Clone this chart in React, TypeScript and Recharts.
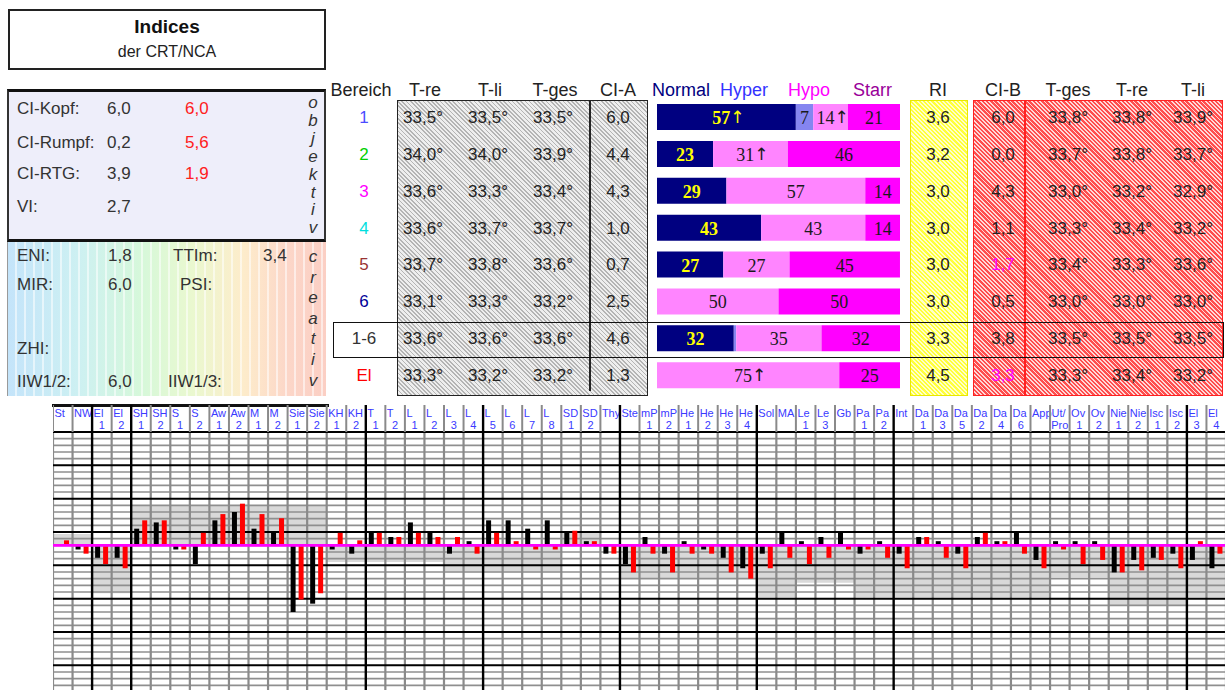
import React from 'react';
import { BarChart, Bar, XAxis, YAxis, ReferenceLine, ReferenceArea, LabelList } from 'recharts';

// ---------------- table data ----------------
const areas = ['1', '2', '3', '4', '5', '6', '1-6', 'El'];
const areaColors = ['#4b4bff', '#00d000', '#ff00ff', '#00dede', '#993333', '#000099', '#333333', '#ff0000'];
const tReL = [33.5, 34.0, 33.6, 33.6, 33.7, 33.1, 33.6, 33.3];
const tLiL = [33.5, 34.0, 33.3, 33.7, 33.8, 33.3, 33.6, 33.2];
const tGesL = [33.5, 33.9, 33.4, 33.7, 33.6, 33.2, 33.6, 33.2];
const ciA = [6.0, 4.4, 4.3, 1.0, 0.7, 2.5, 4.6, 1.3];
const ri = [3.6, 3.2, 3.0, 3.0, 3.0, 3.0, 3.3, 4.5];
const ciB = [6.0, 0.0, 4.3, 1.1, 1.7, 0.5, 3.8, 3.3];
const ciBColors = ['#222', '#222', '#222', '#222', '#ff00ff', '#222', '#222', '#ff00ff'];
const tGesR = [33.8, 33.7, 33.0, 33.3, 33.4, 33.0, 33.5, 33.3];
const tReR = [33.8, 33.8, 33.2, 33.4, 33.3, 33.0, 33.5, 33.4];
const tLiR = [33.9, 33.7, 32.9, 33.2, 33.6, 33.0, 33.5, 33.2];

const distNormal = [57.14, 23.08, 28.57, 42.86, 27.27, 0, 31.6, 0];
const distHyper = [7.14, 0, 0, 0, 0, 0, 1.0, 0];
const distHypo = [14.29, 30.77, 57.14, 42.86, 27.27, 50, 35.1, 75];
const distStarr = [21.43, 46.15, 14.29, 14.29, 45.45, 50, 32.3, 25];
const normalArrow = [true, false, false, false, false, false, false, false];
const hypoArrow = [true, true, false, false, false, false, false, true];

const objLabels = ['CI-Kopf:', 'CI-Rumpf:', 'CI-RTG:', 'VI:'];
const objValues = [6.0, 0.2, 3.9, 2.7];
const objRed: (number | null)[] = [6.0, 5.6, 1.9, null];

// ---------------- bottom chart data ----------------
const labelTop = ['St', 'NW', 'El', 'El', 'SH', 'SH', 'S', 'S', 'Aw', 'Aw', 'M', 'M', 'Sie', 'Sie', 'KH', 'KH', 'T', 'T',
  'L', 'L', 'L', 'L', 'L', 'L', 'L', 'L', 'SD', 'SD', 'Thy', 'Ste', 'mP', 'mP', 'He', 'He', 'He', 'He', 'Sol', 'MA',
  'Le', 'Le', 'Gb', 'Pa', 'Pa', 'Int', 'Da', 'Da', 'Da', 'Da', 'Da', 'Da', 'App', 'Ut/', 'Ov', 'Ov', 'Nie', 'Nie',
  'Isc', 'Isc', 'El', 'El'];
const labelBottom = ['', '', '1', '2', '1', '2', '1', '2', '1', '2', '1', '2', '1', '2', '1', '2', '1', '2',
  '1', '2', '3', '4', '5', '6', '7', '8', '1', '2', '', '', '1', '2', '1', '2', '3', '4', '', '',
  '1', '3', '', '1', '2', '', '1', '3', '5', '2', '4', '6', '', 'Pro', '1', '2', '1', '2',
  '1', '2', '3', '4'];
const blackVals = [0, -0.1, -0.3, -0.3, 0.4, 0.55, -0.1, -0.45, 0.6, 0.8, 0.4, 0.3, -1.6, -1.4, -0.1, -0.2, 0.3, 0.2,
  0.55, 0.3, -0.2, 0.1, 0.6, 0.6, 0.4, 0.6, 0.3, 0.1, -0.2, -0.45, 0.2, -0.2, 0.1, -0.1, -0.3, -0.55, -0.2, 0.3,
  0.1, 0.2, 0.3, -0.2, 0.1, -0.2, 0.2, 0.1, -0.2, 0.2, 0.1, 0.3, -0.35, 0.1, 0.1, 0.1, -0.65, -0.35,
  -0.3, -0.2, -0.35, -0.55];
const redVals = [0.12, -0.2, -0.45, -0.55, 0.6, 0.6, -0.1, 0.3, 0.75, 1.0, 0.75, 0.65, -1.3, -1.15, 0.3, 0.12, 0.3, 0.2,
  0.3, 0.2, 0.2, -0.2, 0.3, 0.1, -0.1, -0.1, 0.35, 0.1, -0.2, -0.65, -0.2, -0.65, -0.2, -0.2, -0.65, -0.8, -0.55, -0.3,
  -0.45, -0.3, -0.1, -0.1, -0.3, -0.55, 0.2, -0.3, -0.55, 0.3, 0.1, -0.2, -0.55, -0.1, -0.45, -0.35, -0.65, -0.6,
  -0.35, -0.55, 0.1, -0.2];
// reference ranges (column from, column to, upper, lower)
const bands = [
  { from: 0, to: 1, top: 0.27, bottom: 0 },
  { from: 2, to: 3, top: 0, bottom: -1.15 },
  { from: 4, to: 13, top: 0.95, bottom: 0 },
  { from: 14, to: 19, top: 0, bottom: -0.4 },
  { from: 20, to: 25, top: 0, bottom: -0.65 },
  { from: 26, to: 27, top: 0.3, bottom: 0 },
  { from: 29, to: 35, top: 0, bottom: -0.8 },
  { from: 36, to: 37, top: 0, bottom: -1.25 },
  { from: 38, to: 40, top: 0, bottom: -0.9 },
  { from: 41, to: 50, top: 0, bottom: -1.25 },
  { from: 51, to: 53, top: 0, bottom: -0.77 },
  { from: 54, to: 57, top: 0, bottom: -1.45 },
  { from: 58, to: 59, top: 0, bottom: -1.25 },
];
const blackCols = [2, 4, 16, 22, 29, 36, 43, 58];

// ---------------- layout constants ----------------
const COLS = labelTop.length;
const CH_LEFT = 53;
const CH_TOP = 405;
const CH_W = 1173;
const CH_H = 285;
const HEAD_H = 27;
const PX_PER_UNIT = 41.667;
const Y_MAX = 2.72;
const Y_MIN = Y_MAX - (CH_H - HEAD_H) / PX_PER_UNIT;
const MINOR = 0.16;

const colKeys = labelTop.map((t, i) => t + labelBottom[i]);
const chartRows = colKeys.map((k, i) => ({ key: k, pos: i + 0.5, black: blackVals[i], red: redVals[i] }));

const minorLines: number[] = [];
const majorLines: number[] = [];
for (let k = Math.ceil(Y_MIN / MINOR); k <= Math.floor(Y_MAX / MINOR + 1e-6); k++) {
  const v = +(k * MINOR).toFixed(3);
  if ((((k - 2) % 5) + 5) % 5 === 0) majorLines.push(v);
  else minorLines.push(v);
}
const colEdges = Array.from({ length: COLS + 1 }, (_, i) => i);

const FONT = 'Arial, "Liberation Sans", sans-serif';
const SERIF = '"Liberation Serif", "Times New Roman", serif';
const fmt1 = (v: number) => v.toFixed(1).replace('.', ',');
const fmtT = (v: number) => fmt1(v) + '°';

const ROW_Y0 = 117;
const ROW_DY = 36.85;

const HATCH_GRAY = 'repeating-linear-gradient(45deg, #b4b4b4 0px, #b4b4b4 1.2px, #eeeeee 1.2px, #eeeeee 3px)';
const HATCH_RED = 'repeating-linear-gradient(45deg, #ff4e4e 0px, #ff4e4e 1.7px, #ffd8d8 1.7px, #ffd8d8 3px)';
const HATCH_YEL = 'repeating-linear-gradient(45deg, #ffff3a 0px, #ffff3a 1.5px, #ffffc8 1.5px, #ffffc8 3px)';

type TP = {
  x: number; y: number; children: React.ReactNode; color?: string; size?: number;
  anchor?: 'start' | 'middle' | 'end'; weight?: number | string; italic?: boolean; family?: string;
};
function T({ x, y, children, color = '#222', size = 17, anchor = 'middle', weight = 'normal', italic = false, family = FONT }: TP) {
  const tx = anchor === 'middle' ? '-50%' : anchor === 'end' ? '-100%' : '0';
  return (
    <div style={{
      position: 'absolute', left: x, top: y, transform: `translate(${tx}, -50%)`, whiteSpace: 'nowrap',
      lineHeight: 1, fontSize: size, color, fontWeight: weight as any, fontStyle: italic ? 'italic' : 'normal',
      fontFamily: family,
    }}>{children}</div>
  );
}

function HeaderTick(props: any) {
  const { x, payload } = props;
  const i = colKeys.indexOf(payload.value);
  if (i < 0) return null;
  const colW = CH_W / COLS;
  const left = x - colW / 2;
  const isBlack = blackCols.includes(i);
  return (
    <g>
      <line x1={left} x2={left} y1={0} y2={HEAD_H} stroke={isBlack ? '#000' : '#8a8a8a'} strokeWidth={isBlack ? 2.4 : 2} />
      <text x={left + 1.5} y={12} fontSize={11} fill="#3a3aff" fontFamily={FONT}>{labelTop[i]}</text>
      {labelBottom[i] ? (
        <text x={x} y={24} textAnchor="middle" fontSize={11} fill="#3a3aff" fontFamily={FONT}>{labelBottom[i]}</text>
      ) : null}
    </g>
  );
}

function GridLayer() {
  return (
    <BarChart width={CH_W} height={CH_H} data={chartRows} margin={{ top: 0, right: 0, bottom: 0, left: 0 }} barSize={5} barGap={3}>
      <XAxis xAxisId="cat" dataKey="key" orientation="top" height={HEAD_H} interval={0} axisLine={false} tickLine={false} tick={<HeaderTick />} />
      <XAxis xAxisId="num" dataKey="pos" type="number" domain={[0, COLS]} hide allowDataOverflow />
      <YAxis type="number" domain={[Y_MIN, Y_MAX]} hide allowDataOverflow />
      {bands.map((b, i) => (
        <ReferenceArea key={'b' + i} xAxisId="num" x1={b.from} x2={b.to + 1} y1={b.top} y2={b.bottom}
          fill="#d9d9d9" fillOpacity={1} stroke="none" ifOverflow="hidden" />
      ))}
      {minorLines.map((v) => (
        <ReferenceLine key={'mi' + v} xAxisId="num" y={v} stroke="#8f8f8f" strokeWidth={1.6} />
      ))}
      {colEdges.filter((c) => !blackCols.includes(c)).map((c) => (
        <ReferenceLine key={'vg' + c} xAxisId="num" x={c} stroke="#8a8a8a" strokeWidth={2.2} />
      ))}
      {majorLines.map((v) => (
        <ReferenceLine key={'ma' + v} xAxisId="num" y={v} stroke="#000" strokeWidth={2} />
      ))}
      {blackCols.map((c) => (
        <ReferenceLine key={'vb' + c} xAxisId="num" x={c} stroke="#000" strokeWidth={2.4} />
      ))}
      <Bar xAxisId="cat" dataKey="black" fill="transparent" isAnimationActive={false} />
    </BarChart>
  );
}

function BarLayer() {
  return (
    <BarChart width={CH_W} height={CH_H} data={chartRows} margin={{ top: 0, right: 0, bottom: 0, left: 0 }} barSize={5} barGap={3}>
      <XAxis xAxisId="cat" dataKey="key" orientation="top" height={HEAD_H} interval={0} axisLine={false} tickLine={false} tick={false} />
      <XAxis xAxisId="num" dataKey="pos" type="number" domain={[0, COLS]} hide allowDataOverflow />
      <YAxis type="number" domain={[Y_MIN, Y_MAX]} hide allowDataOverflow />
      <Bar xAxisId="cat" dataKey="black" fill="#000000" isAnimationActive={false} />
      <Bar xAxisId="cat" dataKey="red" fill="#ff0000" isAnimationActive={false} />
      <ReferenceLine xAxisId="num" y={0} stroke="#ff00ff" strokeWidth={2.6} />
    </BarChart>
  );
}

const distData = areas.map((a, i) => ({
  row: a, normal: distNormal[i], hyper: distHyper[i], hypo: distHypo[i], starr: distStarr[i],
}));

function makeLabel(kind: 'normal' | 'hyper' | 'hypo' | 'starr') {
  return (props: any) => {
    const vb = props.viewBox || props;
    const x = Number(vb.x ?? props.x);
    const y = Number(vb.y ?? props.y);
    const w = Number(vb.width ?? props.width);
    const h = Number(vb.height ?? props.height);
    const v = Number(props.value);
    const idx = props.index;
    if (!v || v < 3) return null;
    const s = String(Math.round(v));
    const arrow = (kind === 'normal' && normalArrow[idx]) || (kind === 'hypo' && hypoArrow[idx]);
    const yellow = kind === 'normal';
    const fill = yellow ? '#ffff00' : '#1a1a1a';
    return (
      <text x={x + w / 2 + (arrow ? 2 : 0)} y={y + h / 2 + 1} textAnchor="middle" dominantBaseline="central"
        fontFamily={SERIF} fontSize={18} fontWeight={yellow ? 'bold' : 'normal'} fill={fill}>
        {s}
        {arrow ? <tspan fontFamily='"DejaVu Sans", sans-serif' fontWeight="normal" fontSize={17} dy={-1}>↑</tspan> : null}
      </text>
    );
  };
}

function DistChart() {
  return (
    <BarChart layout="vertical" width={243} height={295} data={distData} margin={{ top: 0, right: 0, bottom: 0, left: 0 }} barSize={26}>
      <XAxis type="number" domain={[0, 100]} hide allowDataOverflow />
      <YAxis type="category" dataKey="row" hide />
      <Bar dataKey="normal" stackId="s" fill="#000080" isAnimationActive={false}>
        <LabelList dataKey="normal" content={makeLabel('normal')} />
      </Bar>
      <Bar dataKey="hyper" stackId="s" fill="#8585f0" isAnimationActive={false}>
        <LabelList dataKey="hyper" content={makeLabel('hyper')} />
      </Bar>
      <Bar dataKey="hypo" stackId="s" fill="#ff85ff" isAnimationActive={false}>
        <LabelList dataKey="hypo" content={makeLabel('hypo')} />
      </Bar>
      <Bar dataKey="starr" stackId="s" fill="#ff00ff" isAnimationActive={false}>
        <LabelList dataKey="starr" content={makeLabel('starr')} />
      </Bar>
    </BarChart>
  );
}

export default function App() {
  const rowY = (i: number) => ROW_Y0 + i * ROW_DY;
  return (
    <div style={{ position: 'absolute', left: 0, top: 0, width: 1225, height: 690, overflow: 'hidden', background: '#fff', fontFamily: FONT }}>
      {/* title */}
      <div style={{ position: 'absolute', left: 8, top: 9, width: 318, height: 61, border: '2px solid #222', boxSizing: 'border-box' }} />
      <T x={167} y={26} size={19} weight="bold" color="#111">Indices</T>
      <T x={167} y={52} size={16} color="#222">der CRT/NCA</T>

      {/* objektiv panel */}
      <div style={{
        position: 'absolute', left: 7, top: 89, width: 319, height: 153, background: '#eeeefa',
        borderTop: '3px solid #111', borderLeft: '2px solid #333', borderRight: '2px solid #333', borderBottom: '3px solid #111',
        boxSizing: 'border-box',
      }} />
      {objLabels.map((l, i) => {
        const y = [108, 142, 173, 206][i];
        return (
          <React.Fragment key={l}>
            <T x={17} y={y} anchor="start" color="#333">{l}</T>
            <T x={107} y={y} anchor="start" color="#333">{fmt1(objValues[i])}</T>
            {objRed[i] !== null ? <T x={185} y={y} anchor="start" color="#ff2020">{fmt1(objRed[i] as number)}</T> : null}
          </React.Fragment>
        );
      })}
      <div style={{ position: 'absolute', left: 304, top: 94, width: 18, textAlign: 'center', fontStyle: 'italic', fontSize: 17, lineHeight: '17.9px', color: '#333', fontFamily: FONT }}>
        {'objektiv'.split('').map((c, i) => <div key={i}>{c}</div>)}
      </div>

      {/* creativ panel */}
      <div style={{
        position: 'absolute', left: 7, top: 242, width: 319, height: 154,
        background: 'repeating-linear-gradient(90deg, rgba(255,255,255,0) 0px, rgba(255,255,255,0) 7px, rgba(255,255,255,0.55) 7px, rgba(255,255,255,0.55) 9px), linear-gradient(90deg, #c4e4fa 0%, #cdf0f2 22%, #d6f8da 42%, #eaf8cf 58%, #fdeccb 74%, #fcd6c8 88%, #fbcfc4 100%)',
        borderLeft: '1px solid #9a9a9a', boxSizing: 'border-box',
      }} />
      <T x={17} y={255} anchor="start" color="#333">ENI:</T>
      <T x={108} y={255} anchor="start" color="#333">1,8</T>
      <T x={173} y={255} anchor="start" color="#333">TTIm:</T>
      <T x={263} y={255} anchor="start" color="#333">3,4</T>
      <T x={17} y={284} anchor="start" color="#333">MIR:</T>
      <T x={108} y={284} anchor="start" color="#333">6,0</T>
      <T x={180} y={284} anchor="start" color="#333">PSI:</T>
      <T x={17} y={348} anchor="start" color="#333">ZHI:</T>
      <T x={17} y={381} anchor="start" color="#333">IIW1/2:</T>
      <T x={108} y={381} anchor="start" color="#333">6,0</T>
      <T x={168} y={381} anchor="start" color="#333">IIW1/3:</T>
      <div style={{ position: 'absolute', left: 304, top: 247, width: 18, textAlign: 'center', fontStyle: 'italic', fontSize: 17, lineHeight: '20.6px', color: '#333', fontFamily: FONT }}>
        {'creativ'.split('').map((c, i) => <div key={i}>{c}</div>)}
      </div>

      {/* headers */}
      <T x={361} y={90} size={18}>Bereich</T>
      <T x={425} y={90} size={18}>T-re</T>
      <T x={490} y={90} size={18}>T-li</T>
      <T x={555} y={90} size={18}>T-ges</T>
      <T x={618} y={90} size={18}>CI-A</T>
      <T x={652} y={90} size={18} anchor="start" color="#000080">Normal</T>
      <T x={720} y={90} size={18} anchor="start" color="#3333ff">Hyper</T>
      <T x={788} y={90} size={18} anchor="start" color="#ff00ff">Hypo</T>
      <T x={853} y={90} size={18} anchor="start" color="#990099">Starr</T>
      <T x={938} y={90} size={18}>RI</T>
      <T x={1003} y={90} size={18}>CI-B</T>
      <T x={1068} y={90} size={18}>T-ges</T>
      <T x={1132} y={90} size={18}>T-re</T>
      <T x={1193} y={90} size={18}>T-li</T>

      {/* hatched boxes */}
      <div style={{ position: 'absolute', left: 397, top: 100, width: 251, height: 296, background: HATCH_GRAY, border: '1.5px solid #222', boxSizing: 'border-box' }} />
      <div style={{ position: 'absolute', left: 589, top: 100, width: 1.5, height: 291, background: '#222' }} />
      <div style={{ position: 'absolute', left: 910, top: 100, width: 58, height: 296, background: HATCH_YEL, border: '1.5px solid #e8e800', boxSizing: 'border-box' }} />
      <div style={{ position: 'absolute', left: 973, top: 100, width: 250, height: 296, background: HATCH_RED, border: '1.5px solid #ff2020', boxSizing: 'border-box' }} />
      <div style={{ position: 'absolute', left: 1024, top: 100, width: 1.5, height: 296, background: '#ff2020' }} />

      {/* distribution bars */}
      <div style={{ position: 'absolute', left: 657, top: 98.5 }}>
        <DistChart />
      </div>

      {/* table values */}
      {areas.map((a, i) => (
        <React.Fragment key={a}>
          <T x={364} y={rowY(i)} color={areaColors[i]}>{a}</T>
          <T x={423} y={rowY(i)}>{fmtT(tReL[i])}</T>
          <T x={488} y={rowY(i)}>{fmtT(tLiL[i])}</T>
          <T x={553} y={rowY(i)}>{fmtT(tGesL[i])}</T>
          <T x={618} y={rowY(i)}>{fmt1(ciA[i])}</T>
          <T x={938} y={rowY(i)}>{fmt1(ri[i])}</T>
          <T x={1003} y={rowY(i)} color={ciBColors[i]}>{fmt1(ciB[i])}</T>
          <T x={1068} y={rowY(i)}>{fmtT(tGesR[i])}</T>
          <T x={1132} y={rowY(i)}>{fmtT(tReR[i])}</T>
          <T x={1193} y={rowY(i)}>{fmtT(tLiR[i])}</T>
        </React.Fragment>
      ))}

      {/* 1-6 frame */}
      <div style={{ position: 'absolute', left: 333, top: 322, width: 891, height: 36, border: '1.5px solid #111', boxSizing: 'border-box' }} />

      {/* bottom chart */}
      <div style={{ position: 'absolute', left: 52, top: 403.5, width: 277, height: 3, background: '#111' }} />
      <div style={{ position: 'absolute', left: CH_LEFT, top: CH_TOP }}>
        <GridLayer />
      </div>
      <div style={{ position: 'absolute', left: CH_LEFT, top: CH_TOP }}>
        <BarLayer />
      </div>
    </div>
  );
}
